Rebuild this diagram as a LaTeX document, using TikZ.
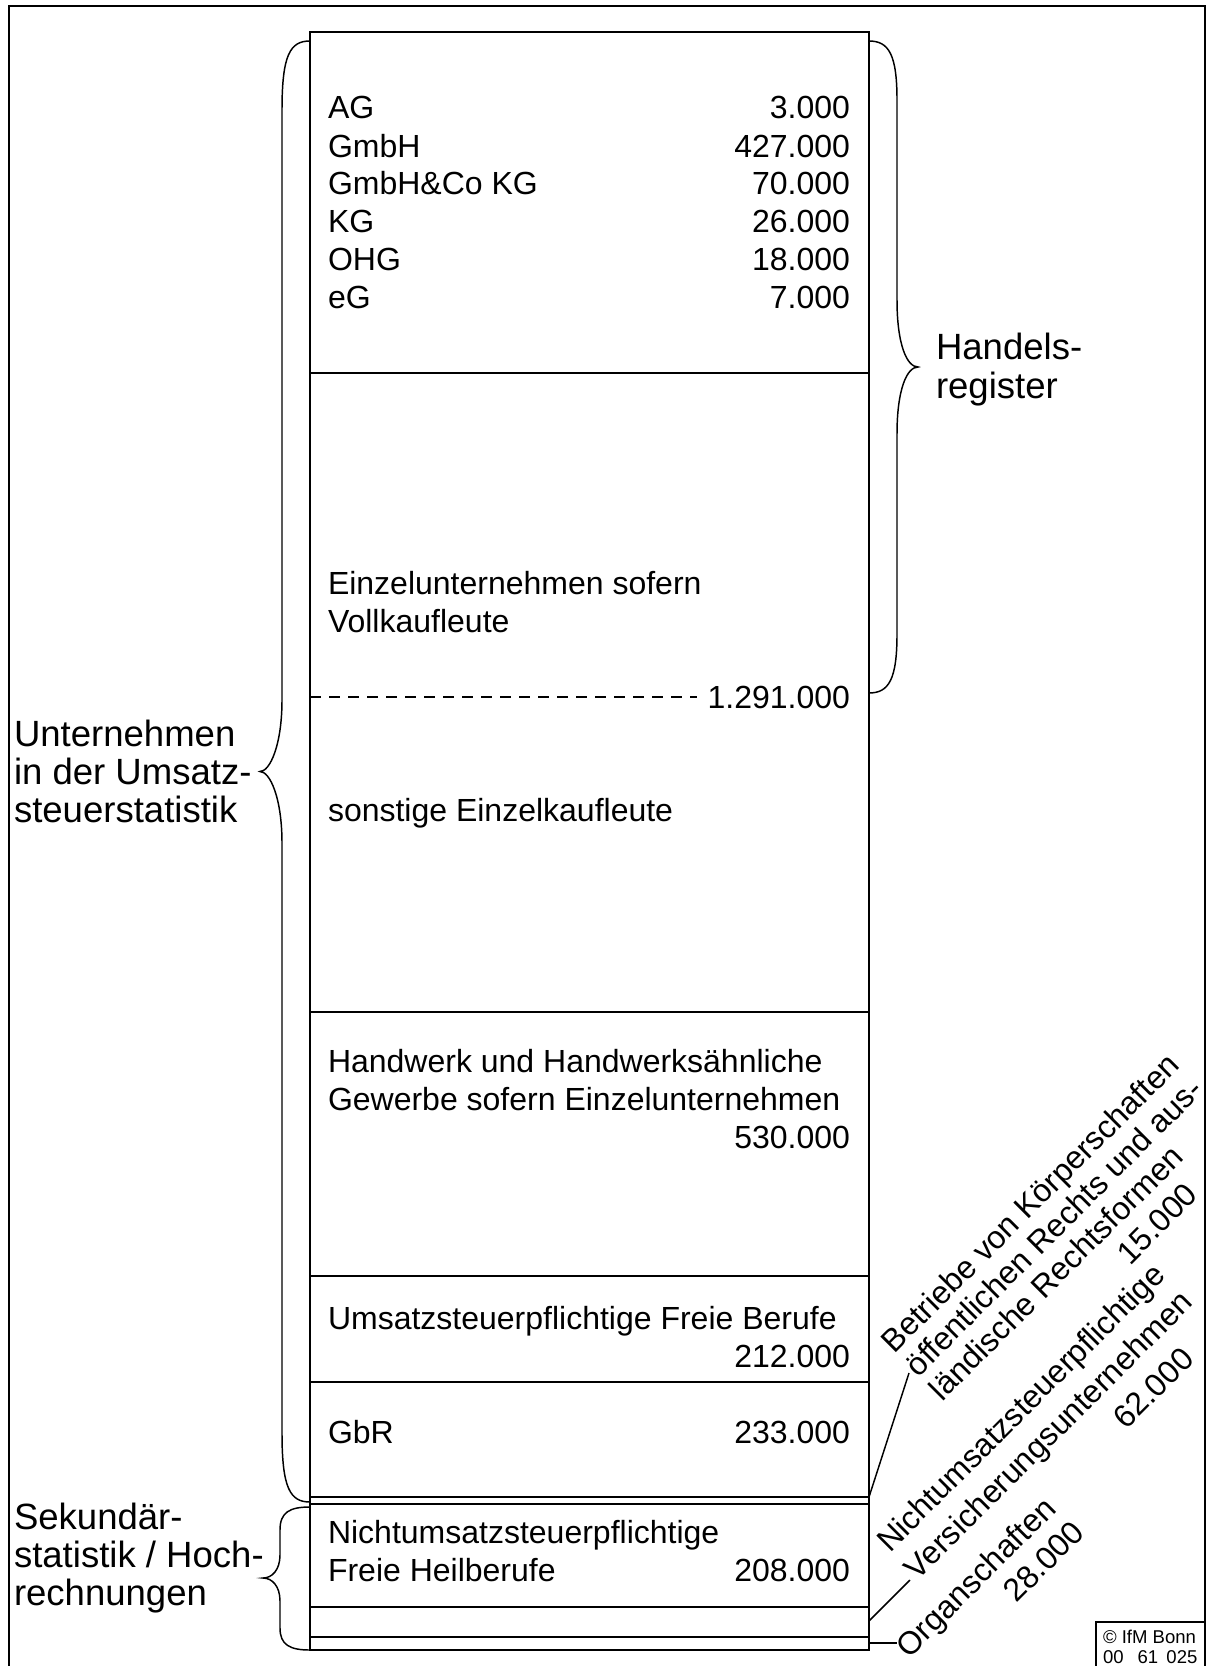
\documentclass[tikz,border=0pt]{standalone}
\usepackage{fontspec}
\setmainfont{Liberation Sans}
\begin{document}
\begin{tikzpicture}[x=0.75pt,y=-0.75pt,
  txt/.style={inner sep=0,outer sep=0,font=\fontsize{24}{28}\selectfont},
  big/.style={inner sep=0,outer sep=0,anchor=base west,font=\fontsize{27.4}{31}\selectfont},
  lt/.style={txt,anchor=base west},
  rt/.style={txt,anchor=base east},
  rot/.style={txt,anchor=base west,rotate=45},
  small/.style={inner sep=0,outer sep=0,anchor=base west,font=\fontsize{13.9}{16}\selectfont},
  frame/.style={line width=1.5pt},
  boxline/.style={line width=1.5pt},
  brace/.style={line width=1.1pt},
  leader/.style={line width=1.1pt},
  dashline/.style={line width=1.2pt,dash pattern=on 8.25pt off 6pt}]
\useasboundingbox (0,0) rectangle (1208,1666);
% outer frame
\draw[frame] (9,1672) -- (9,6) -- (1205,6) -- (1205,1672);
% main column
\draw[boxline] (310,32) rectangle (869,1650);
\foreach \yy in {373,1012,1276,1382,1497,1504,1607,1637}
  \draw[boxline] (310,\yy) -- (869,\yy);
\coordinate (dashL) at (310,697);
\coordinate (dashR) at (697,697);
\draw[dashline] (dashL) -- (dashR);

% texts in column
\node[lt] (tAG) at (328,119) {AG};
\node[rt] (nAG) at (850,119) {3.000};
\node[lt] (tGmbH) at (328,157) {GmbH};
\node[rt] (nGmbH) at (850,157) {427.000};
\node[lt] (tGCo) at (328,195) {GmbH\&Co KG};
\node[rt] (nGCo) at (850,195) {70.000};
\node[lt] (tKG) at (328,232) {KG};
\node[rt] (nKG) at (850,232) {26.000};
\node[lt] (tOHG) at (328,270) {OHG};
\node[rt] (nOHG) at (850,270) {18.000};
\node[lt] (teG) at (328,308) {eG};
\node[rt] (neG) at (850,308) {7.000};

\node[lt] (tEin1) at (328,594) {Einzelunternehmen sofern};
\node[lt] (tEin2) at (328,632) {Vollkaufleute};
\node[rt] (nEin) at (850,708) {1.291.000};
\node[lt] (tSon) at (328,821) {sonstige Einzelkaufleute};

\node[lt] (tHw1) at (328,1072) {Handwerk und Handwerksähnliche};
\node[lt] (tHw2) at (328,1110) {Gewerbe sofern Einzelunternehmen};
\node[rt] (nHw) at (850,1148) {530.000};

\node[lt] (tFB) at (328,1329) {Umsatzsteuerpflichtige Freie Berufe};
\node[rt] (nFB) at (850,1367) {212.000};

\node[lt] (tGbR) at (328,1443) {GbR};
\node[rt] (nGbR) at (850,1443) {233.000};

\node[lt] (tNH1) at (328,1543) {Nichtumsatzsteuerpflichtige};
\node[lt] (tNH2) at (328,1581) {Freie Heilberufe};
\node[rt] (nNH) at (850,1581) {208.000};

% left labels
\node[big] (lU1) at (14,746) {Unternehmen};
\node[big] (lU2) at (14,784) {in der Umsatz-};
\node[big] (lU3) at (14,822) {steuerstatistik};
\node[big] (lS1) at (14,1529) {Sekundär-};
\node[big] (lS2) at (14,1567) {statistik / Hoch-};
\node[big] (lS3) at (14,1605) {rechnungen};
% right label
\node[big] (lH1) at (936,359) {Handels-};
\node[big] (lH2) at (936,398) {register};

% braces
\draw[brace] (310,41) .. controls (290,41) and (282,55) .. (282,110)
  -- (282,700) .. controls (282,745) and (270,771.5) .. (260,771.5)
  .. controls (270,771.5) and (282,798) .. (282,843)
  -- (282,1433) .. controls (282,1488) and (290,1502) .. (310,1502);
\draw[brace] (869,41) .. controls (889,41) and (897,55) .. (897,100)
  -- (897,300) .. controls (897,345) and (907,367) .. (918,367)
  .. controls (907,367) and (897,389) .. (897,434)
  -- (897,634) .. controls (897,679) and (889,693) .. (869,693);
\draw[brace] (310,1507) .. controls (290,1507) and (280,1512) .. (280,1530)
  -- (280,1555) .. controls (280,1570) and (272,1578) .. (263,1578)
  .. controls (272,1578) and (280,1586) .. (280,1601)
  -- (280,1628) .. controls (280,1645) and (290,1650) .. (310,1650);

% rotated texts
\node[rot] (r11) at (894.5,1354) {Betriebe von Körperschaften};
\node[rot] (r12) at (918.5,1378) {öffentlichen Rechts und aus-};
\node[rot] (r13) at (942.6,1402) {ländische Rechtsformen};
\node[rot] (r14) at (1130,1266) {15.000};
\node[rot] (r21) at (890.3,1553.5) {Nichtumsatzsteuerpflichtige};
\node[rot] (r22) at (917.8,1581) {Versicherungsunternehmen};
\node[rot] (r23) at (1126.4,1430.5) {62.000};
\node[rot] (r31) at (909.3,1659) {Organschaften};
\node[rot] (r32) at (1016.8,1603.7) {28.000};

% leaders
\coordinate (a1) at (869,1497);
\coordinate (b1) at (909,1373);
\coordinate (a2) at (869,1621);
\coordinate (b2) at (910,1580);
\coordinate (a3) at (869,1643);
\coordinate (b3) at (897,1643);
\draw[leader] (a1) -- (b1);
\draw[leader] (a2) -- (b2);
\draw[leader] (a3) -- (b3);

% copyright box
\draw[frame] (1096,1672) -- (1096,1622) -- (1205,1622);
\node[small] (c1) at (1103,1643) {© IfM Bonn};
\node[small] (c2) at (1103,1663) {00\hspace{0.75em}61\hspace{0.45em}025};
\end{tikzpicture}
\end{document}
